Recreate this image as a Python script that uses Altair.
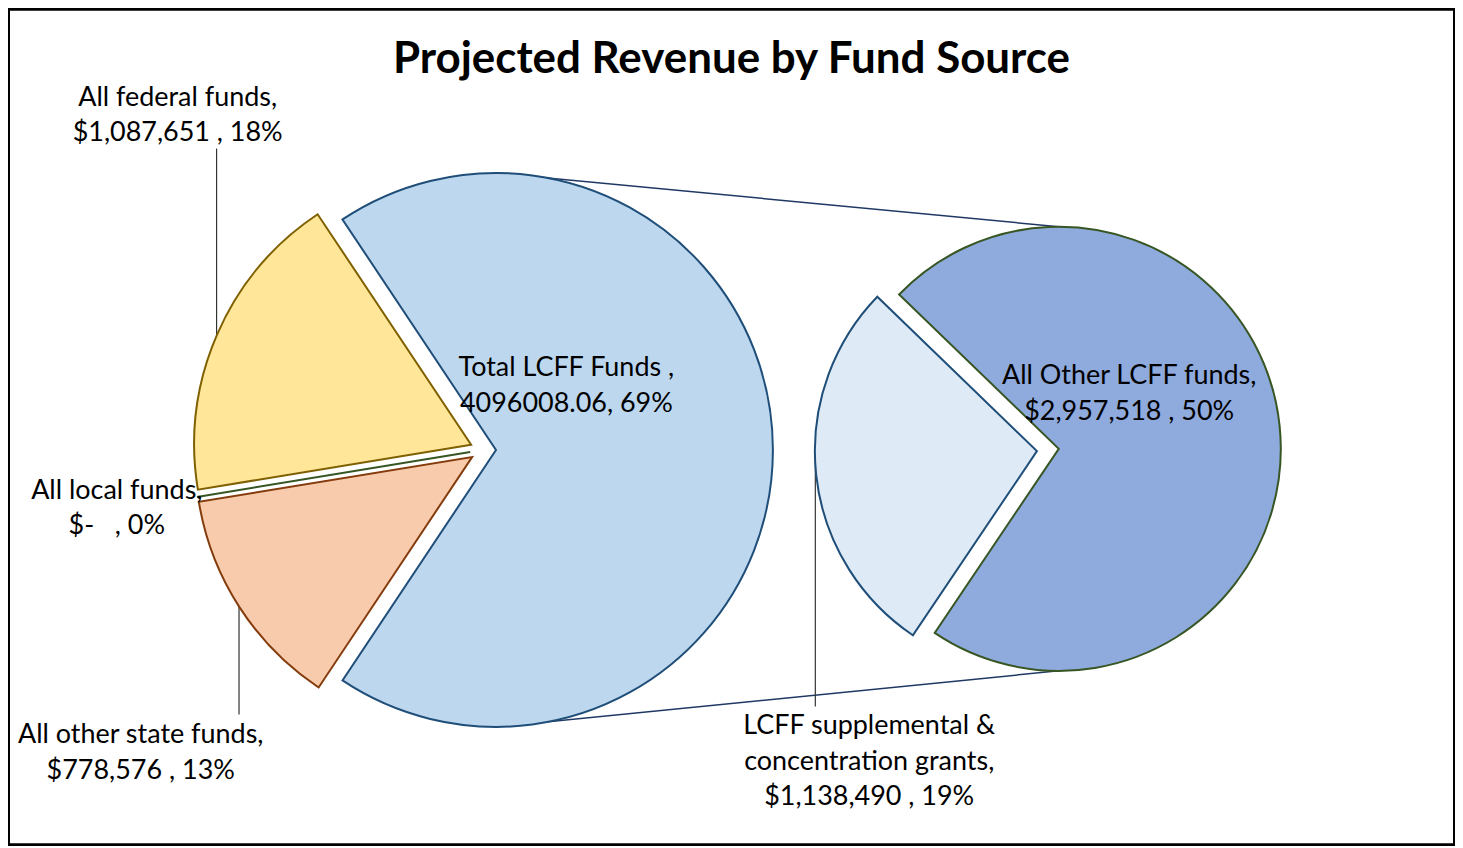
import math
import altair as alt
import pandas as pd

# ---------------- data ----------------
title_text = "Projected Revenue by Fund Source"

main_names = ["Total LCFF Funds", "All other state funds", "All local funds", "All federal funds"]
main_values = [4096008.06, 778576, 0, 1087651]
main_label_heads = [["Total LCFF Funds ,"], ["All other state funds,"], ["All local funds,"], ["All federal funds,"]]

sub_names = ["LCFF supplemental & concentration grants", "All Other LCFF funds"]
sub_values = [1138490, 2957518]
sub_label_heads = [["LCFF supplemental &", "concentration grants,"], ["All Other LCFF funds,"]]

fills = ["#BDD7EE", "#F8CBAD", "#C5E0B4", "#FFE699", "#DEEBF7", "#8FAADC"]
strokes = ["#1F4E79", "#843C0C", "#375623", "#7F6000", "#1F4E79", "#375623"]

# ---------------- layout constants (chart px) ----------------
W, H = 1450, 838
LC = (476.0, 442.0); R1 = 277.5; E1 = 13.0; MID1 = 90.0     # main pie
RC = (1042.0, 442.0); R2 = 222.5; E2 = 11.0; MID2 = 264.0   # secondary pie
FONT = "Lato"
FS = 27
LH = 35.5

grand = sum(main_values)


def money(v):
    return "$-\u00a0\u00a0\u00a0" if v == 0 else f"${v:,.0f} "


def pct(v):
    return f"{round(v / grand * 100):.0f}%"


main_lines = []
for i, (h, v) in enumerate(zip(main_label_heads, main_values)):
    if i == 0:
        main_lines.append(h + [f"{v}, {pct(v)}"])
    else:
        main_lines.append(h + [f"{money(v)}, {pct(v)}"])
sub_lines = [h + [f"{money(v)}, {pct(v)}"] for h, v in zip(sub_label_heads, sub_values)]

# label anchors (center x, first baseline)
main_anchor = [(559.5, 368.0), (133.0, 736.0), (109.0, 491.0), (170.0, 97.0)]
sub_anchor = [(863.0, 727.0), (1123.5, 376.0)]

all_names = main_names + sub_names


def pie_layer(names, values, center, R, E, mid_deg):
    df = pd.DataFrame({"name": names, "value": values, "order": list(range(len(names)))})
    share0 = values[0] / sum(values)
    s = math.radians((mid_deg - 180.0 * share0) % 360.0)
    return (
        alt.Chart(df)
        .transform_joinaggregate(total="sum(value)")
        .transform_window(cum="sum(value)", sort=[alt.SortField("order")])
        .transform_calculate(f0="(datum.cum - datum.value) / datum.total", f1="datum.cum / datum.total")
        .transform_calculate(mid=f"{s} + PI * (datum.f0 + datum.f1)")
        .transform_calculate(cx=f"{center[0]} + {E} * sin(datum.mid)", cy=f"{center[1]} - {E} * cos(datum.mid)")
        .mark_arc(outerRadius=R, innerRadius=0, strokeWidth=2, strokeJoin="miter")
        .encode(
            theta=alt.Theta("f0:Q", scale=alt.Scale(domain=[0, 1], range=[s, s + 2 * math.pi])),
            theta2=alt.Theta2("f1:Q"),
            x=alt.X("cx:Q", scale=None),
            y=alt.Y("cy:Q", scale=None),
            color=alt.Color("name:N", scale=alt.Scale(domain=all_names, range=fills), legend=None),
            stroke=alt.Stroke("name:N", scale=alt.Scale(domain=all_names, range=strokes), legend=None),
            order=alt.Order("order:Q"),
        )
    )


left = pie_layer(main_names, main_values, LC, R1, E1, MID1)
right = pie_layer(sub_names, sub_values, RC, R2, E2, MID2)

# connector lines between the two pies (from geometry)
other_mid = math.radians(MID2 + 180.0)
lx = LC[0] + E1
rx = RC[0] + E2 * math.sin(other_mid)
ry = RC[1] - E2 * math.cos(other_mid)
conn = pd.DataFrame({
    "x": [lx, lx], "y": [LC[1] - R1, LC[1] + R1],
    "x2": [rx, rx], "y2": [ry - R2, ry + R2],
})
connectors = alt.Chart(conn).mark_rule(color="#1F3864", strokeWidth=1.5).encode(
    x=alt.X("x:Q", scale=None), y=alt.Y("y:Q", scale=None), x2="x2:Q", y2="y2:Q"
)

# leader lines (label -> slice), drawn beneath the pies
lead = pd.DataFrame({
    "x": [209.0, 231.5, 809.0],
    "y": [140.0, 707.0, 699.0],
    "y2": [360.0, 580.0, 440.0],
})
leaders = alt.Chart(lead).mark_rule(color="#333333", strokeWidth=1.2).encode(
    x=alt.X("x:Q", scale=None), y=alt.Y("y:Q", scale=None), y2="y2:Q"
)

rows = []
for lines, (ax, ay) in zip(main_lines + sub_lines, main_anchor + sub_anchor):
    for k, t in enumerate(lines):
        rows.append({"text": t, "x": ax, "y": ay + k * LH})
labels = alt.Chart(pd.DataFrame(rows)).mark_text(
    font=FONT, fontSize=FS, align="center", baseline="alphabetic", color="#000000"
).encode(x=alt.X("x:Q", scale=None), y=alt.Y("y:Q", scale=None), text="text:N")

title = alt.Chart(pd.DataFrame({"text": [title_text]})).mark_text(
    font=FONT, fontSize=44, fontWeight="bold", align="center", baseline="alphabetic", color="#000000"
).encode(x=alt.value(725), y=alt.value(64), text="text:N")

chart = (
    alt.layer(connectors, leaders, left, right, labels, title)
    .resolve_scale(theta="independent")
    .properties(width=W, height=H, padding=0,
                autosize=alt.AutoSizeParams(type="fit", contains="padding"))
    .configure_view(stroke="#000000", strokeWidth=4)
)

chart.save("out.html", embed_options={"renderer": "svg", "actions": False})
